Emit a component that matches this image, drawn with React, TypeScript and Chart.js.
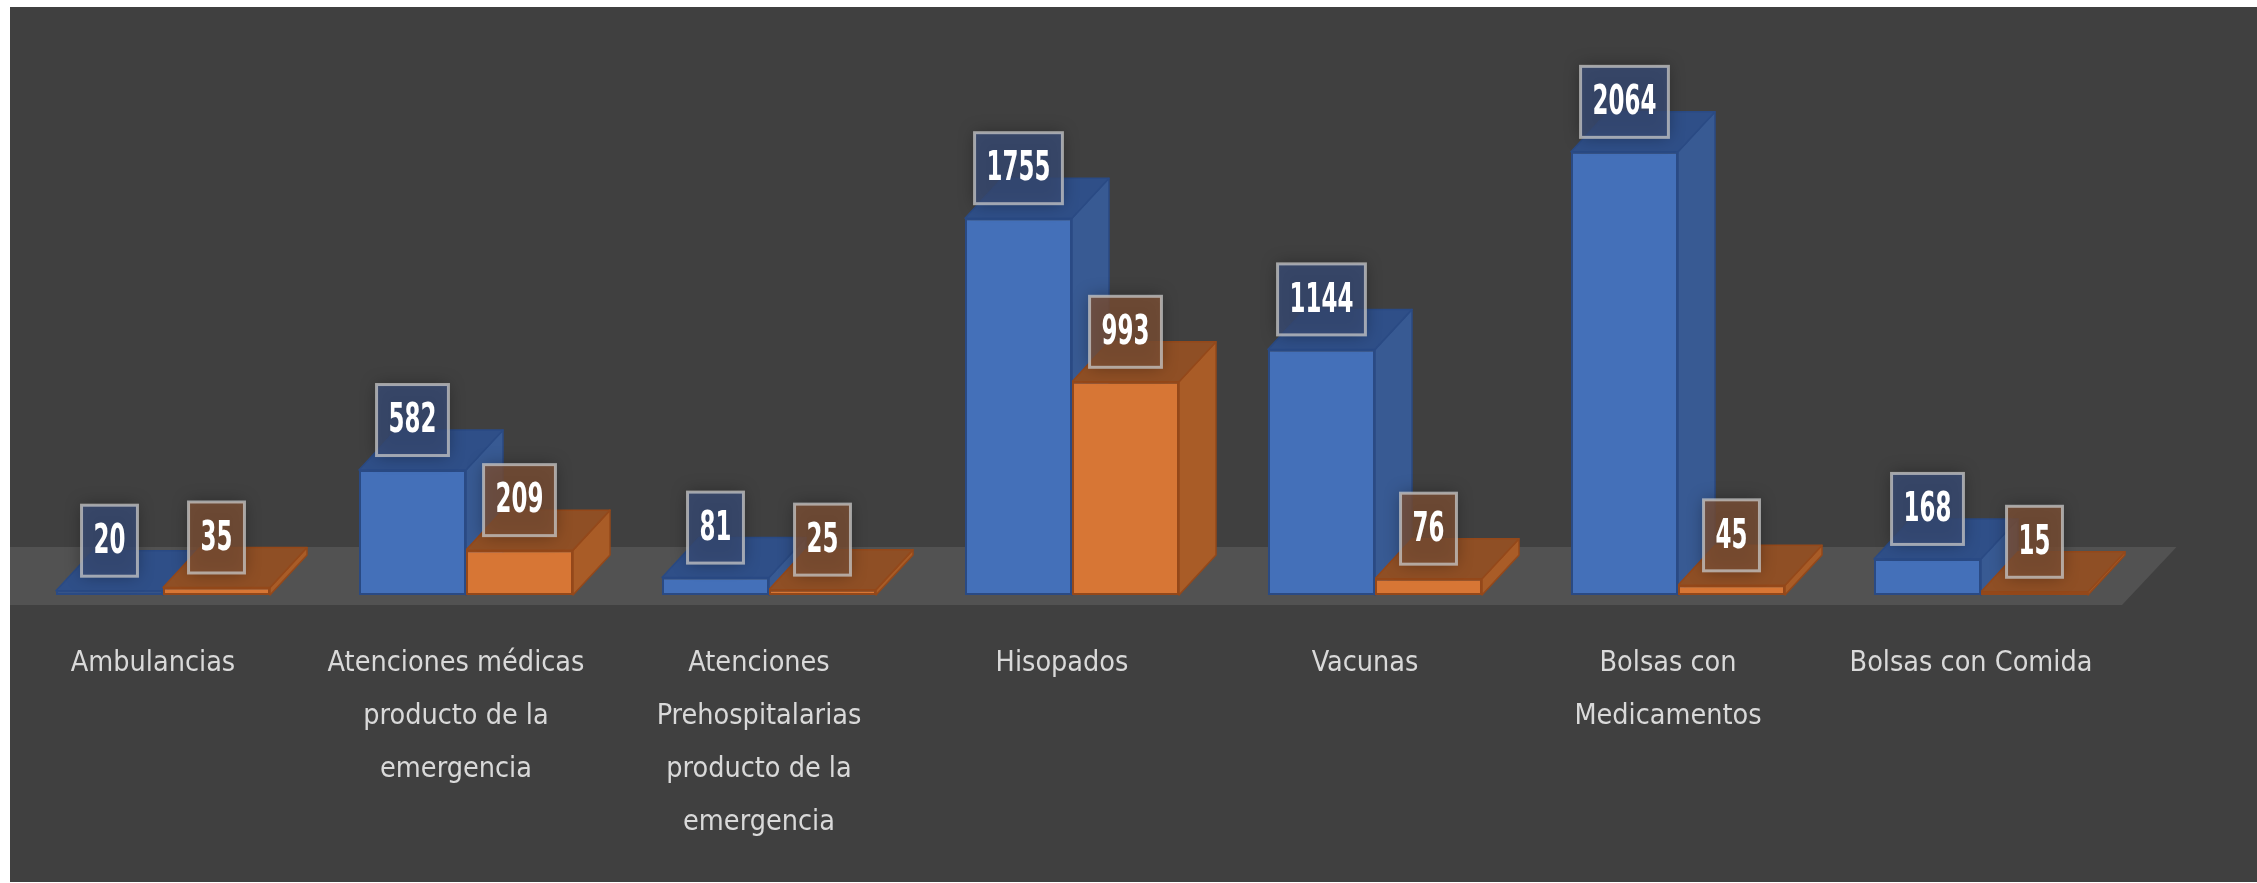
import React, { useEffect, useRef } from 'react';
import { Chart, registerables } from 'chart.js';

Chart.register(...registerables);

const categories: string[][] = [
  ['Ambulancias'],
  ['Atenciones médicas', 'producto de la', 'emergencia'],
  ['Atenciones', 'Prehospitalarias', 'producto de la', 'emergencia'],
  ['Hisopados'],
  ['Vacunas'],
  ['Bolsas con', 'Medicamentos'],
  ['Bolsas con Comida'],
];
const seriesBlue = [20, 582, 81, 1755, 1144, 2064, 168];
const seriesOrange = [35, 209, 25, 993, 76, 45, 15];
const seriesNames = ['Serie 1', 'Serie 2'];
const yMin = 0;
const yMax = 2500;

const FONT = "'Liberation Sans Narrow', 'DejaVu Sans Condensed', 'Liberation Sans', sans-serif";
const DX = 37;
const DY = -40;

const faces = [
  { front: '#4470b9', top: '#2f4f88', side: '#385a93', edge: '#2a4a84', box: 'rgba(56,76,118,0.78)' },
  { front: '#d77635', top: '#8f4f25', side: '#a95c27', edge: '#94481a', box: 'rgba(124,80,52,0.78)' },
];

const bars3d = {
  id: 'bars3d',
  beforeDatasetsDraw(chart: any) {
    const { ctx, chartArea, scales } = chart;
    const base = scales.y.getPixelForValue(0);
    ctx.save();
    // floor
    ctx.fillStyle = '#525252';
    ctx.beginPath();
    ctx.moveTo(0, base + 10);
    ctx.lineTo(chartArea.right - 10.5, base + 10);
    ctx.lineTo(chartArea.right + 44, base - 48);
    ctx.lineTo(0, base - 48);
    ctx.closePath();
    ctx.fill();
    ctx.lineWidth = 1.5;
    ctx.lineJoin = 'round';
    for (let d = 0; d < 2; d++) {
      const meta = chart.getDatasetMeta(d);
      const f = faces[d];
      meta.data.forEach((bar: any) => {
        const { x, y, width } = bar.getProps(['x', 'y', 'width'], true);
        const l = x - width / 2;
        const r = x + width / 2;
        ctx.strokeStyle = f.edge;
        // side face
        ctx.fillStyle = f.side;
        ctx.beginPath();
        ctx.moveTo(r, y);
        ctx.lineTo(r + DX, y + DY);
        ctx.lineTo(r + DX, base + DY);
        ctx.lineTo(r, base);
        ctx.closePath();
        ctx.fill();
        ctx.stroke();
        // top face
        ctx.fillStyle = f.top;
        ctx.beginPath();
        ctx.moveTo(l, y);
        ctx.lineTo(l + DX, y + DY);
        ctx.lineTo(r + DX, y + DY);
        ctx.lineTo(r, y);
        ctx.closePath();
        ctx.fill();
        ctx.stroke();
      });
    }
    ctx.restore();
  },
  afterDatasetsDraw(chart: any) {
    const { ctx } = chart;
    ctx.save();
    for (let d = 0; d < 2; d++) {
      const meta = chart.getDatasetMeta(d);
      const values = chart.data.datasets[d].data as number[];
      meta.data.forEach((bar: any, i: number) => {
        const { x, y } = bar.getProps(['x', 'y'], true);
        const text = String(values[i]);
        ctx.font = `bold 25.5px ${FONT}`;
        const tw = ctx.measureText(text).width;
        const bw = tw + 24;
        const bh = 71;
        const cy = y - 50;
        ctx.shadowColor = 'rgba(0,0,0,0.45)';
        ctx.shadowBlur = 16;
        ctx.fillStyle = faces[d].box;
        ctx.fillRect(x - bw / 2, cy - bh / 2, bw, bh);
        ctx.shadowColor = 'transparent';
        ctx.shadowBlur = 0;
        ctx.strokeStyle = 'rgba(200,200,200,0.75)';
        ctx.lineWidth = 3;
        ctx.strokeRect(x - bw / 2, cy - bh / 2, bw, bh);
        ctx.save();
        ctx.translate(x, cy);
        ctx.scale(1, 1.6);
        ctx.fillStyle = '#ffffff';
        ctx.textAlign = 'center';
        ctx.textBaseline = 'middle';
        ctx.fillText(text, 0, 1);
        ctx.restore();
      });
    }
    ctx.restore();
  },
};

export default function App() {
  const ref = useRef<HTMLCanvasElement | null>(null);
  useEffect(() => {
    if (!ref.current) return;
    const chart = new Chart(ref.current, {
      type: 'bar',
      data: {
        labels: categories,
        datasets: [
          {
            label: seriesNames[0],
            data: seriesBlue,
            backgroundColor: faces[0].front,
            borderColor: faces[0].edge,
            borderWidth: 2,
            borderSkipped: false,
          },
          {
            label: seriesNames[1],
            data: seriesOrange,
            backgroundColor: faces[1].front,
            borderColor: faces[1].edge,
            borderWidth: 2,
            borderSkipped: false,
          },
        ],
      },
      options: {
        responsive: false,
        animation: false,
        devicePixelRatio: 1,
        layout: { padding: { top: 51.25, left: 1.5, right: 124.5, bottom: 0 } },
        datasets: { bar: { categoryPercentage: 0.7063, barPercentage: 1 } },
        plugins: {
          legend: { display: false },
          title: { display: false },
          tooltip: { enabled: false },
        },
        scales: {
          x: {
            grid: { display: false, drawTicks: false },
            border: { display: false },
            ticks: {
              color: '#d9d9d9',
              font: { family: FONT, size: 28.5, lineHeight: 1.86 },
              padding: 42,
              labelOffset: -10,
              maxRotation: 0,
              minRotation: 0,
              autoSkip: false,
            },
            afterFit: (scale: any) => {
              scale.height = 287;
            },
          },
          y: {
            display: false,
            min: yMin,
            max: yMax,
          },
        },
      },
      plugins: [bars3d],
    });
    return () => chart.destroy();
  }, []);
  return (
    <div style={{ position: 'absolute', left: 10, top: 7, width: 2247, height: 875, background: '#404040' }}>
      <canvas ref={ref} width={2247} height={875} style={{ display: 'block', width: 2247, height: 875 }} />
    </div>
  );
}
